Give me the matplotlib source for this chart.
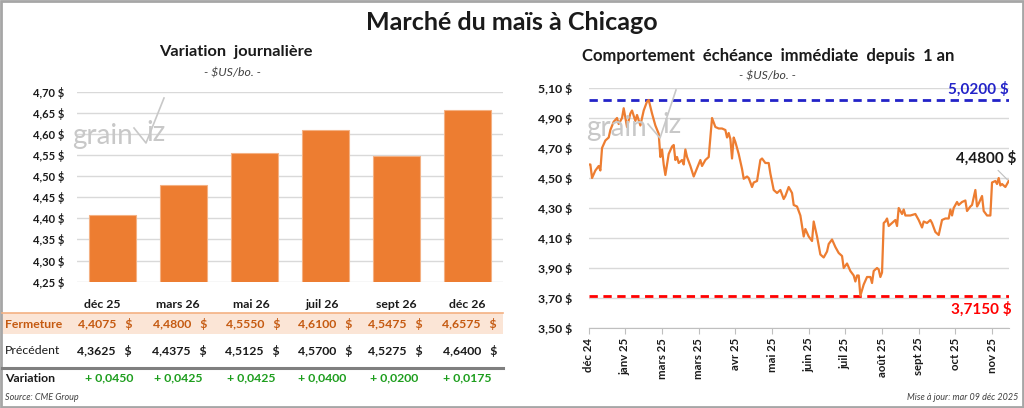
import matplotlib
matplotlib.use("Agg")
import matplotlib.pyplot as plt
from matplotlib.patches import Rectangle
from matplotlib.lines import Line2D

plt.rcParams['font.family'] = ['Lato', 'DejaVu Sans']

# ---------------- data ----------------
contracts = ["déc 25", "mars 26", "mai 26", "juil 26", "sept 26", "déc 26"]
fermeture = [4.4075, 4.4800, 4.5550, 4.6100, 4.5475, 4.6575]
precedent = [4.3625, 4.4375, 4.5125, 4.5700, 4.5275, 4.6400]
variation = [0.0450, 0.0425, 0.0425, 0.0400, 0.0200, 0.0175]

days = [0, 1, 2, 4, 6, 7, 8, 10, 12, 13, 15, 17, 18, 20, 21, 23, 25, 26, 28, 29,
        31, 33, 35, 36, 38, 40, 42, 43, 44, 45, 46, 48, 50, 51, 52, 53, 54, 56, 57, 58,
        59, 61, 63, 65, 67, 68, 70, 72, 74, 75, 76, 78, 80, 82, 83, 84, 85, 86, 87, 88,
        90, 92, 93, 95, 96, 98, 99, 101, 103, 104, 106, 108, 109, 111, 113, 115, 117, 118, 120, 122,
        123, 125, 127, 129, 130, 132, 134, 135, 137, 139, 141, 143, 144, 146, 148, 150, 152, 153, 155, 157,
        159, 160, 161, 162, 163, 165, 167, 169, 170, 171, 173, 174, 175, 176, 177, 178, 179, 180, 182, 184,
        185, 186, 188, 189, 190, 193, 196, 198, 200, 201, 203, 205, 206, 208, 209, 210, 212, 214, 216, 217,
        218, 219, 221, 222, 224, 226, 227, 229, 230, 232, 233, 234, 236, 237, 239, 241, 242, 244, 245, 246,
        247, 248, 250, 252]
prices = [4.59, 4.59, 4.50, 4.55, 4.58, 4.55, 4.70, 4.75, 4.77, 4.82, 4.875, 4.90, 4.86, 4.90, 4.965, 4.84, 4.93, 4.95, 4.88, 4.92,
          4.85, 4.95, 5.01, 5.02, 4.93, 4.85, 4.795, 4.64, 4.69, 4.59, 4.52, 4.66, 4.71, 4.72, 4.62, 4.64, 4.60, 4.62, 4.59, 4.69,
          4.64, 4.58, 4.51, 4.565, 4.62, 4.58, 4.62, 4.64, 4.90, 4.87, 4.84, 4.83, 4.83, 4.82, 4.77, 4.80, 4.76, 4.63, 4.77, 4.74,
          4.66, 4.56, 4.495, 4.51, 4.50, 4.44, 4.47, 4.48, 4.62, 4.63, 4.60, 4.60, 4.53, 4.42, 4.40, 4.42, 4.36, 4.38, 4.44, 4.40,
          4.32, 4.31, 4.25, 4.11, 4.16, 4.11, 4.08, 4.21, 4.11, 3.99, 3.97, 4.01, 4.06, 4.09, 4.04, 4.00, 3.98, 3.90, 3.93, 3.88,
          3.85, 3.81, 3.85, 3.85, 3.715, 3.79, 3.84, 3.84, 3.80, 3.88, 3.90, 3.89, 3.84, 3.87, 4.20, 4.21, 4.23, 4.18, 4.20, 4.22,
          4.18, 4.30, 4.26, 4.29, 4.25, 4.25, 4.26, 4.22, 4.17, 4.21, 4.20, 4.22, 4.20, 4.14, 4.13, 4.12, 4.22, 4.23, 4.23, 4.29,
          4.25, 4.30, 4.34, 4.32, 4.34, 4.35, 4.28, 4.31, 4.32, 4.42, 4.31, 4.33, 4.38, 4.28, 4.25, 4.25, 4.47, 4.48, 4.46, 4.50,
          4.45, 4.46, 4.44, 4.48]
month_labels = ["déc 24", "janv 25", "mars 25", "mars 25", "avr 25", "mai 25",
                "juin 25", "juil 25", "août 25", "sept 25", "oct 25", "nov 25"]
tick_step = 22
high_val = 5.02
low_val = 3.715
last_val = 4.48

left_ticks = [4.25, 4.30, 4.35, 4.40, 4.45, 4.50, 4.55, 4.60, 4.65, 4.70]
right_ticks = [3.50, 3.70, 3.90, 4.10, 4.30, 4.50, 4.70, 4.90, 5.10]

# ---------------- figure ----------------
W, H = 1024, 408
fig = plt.figure(figsize=(W / 100, H / 100), dpi=100)
fig.patch.set_facecolor('white')

def fx(x):
    return x / W

def fy(y):
    return 1 - y / H

def fr(x0, y0, x1, y1):
    return [fx(x0), fy(y1), (x1 - x0) / W, (y1 - y0) / H]

def fmt(v, d):
    return f"{v:.{d}f}".replace('.', ',')

ORANGE = '#ED7D31'
DARK = '#1a1a1a'

fig.text(fx(512), fy(22), "Marché du maïs à Chicago", ha='center', va='center',
         fontsize=18, fontweight='bold', color=DARK)

# ---------- left chart ----------
fig.text(fx(236), fy(52), "Variation  journalière", ha='center', va='center',
         fontsize=11.8, fontweight='bold', color=DARK)
fig.text(fx(232), fy(73), "- $US/bo. -", ha='center', va='center',
         fontsize=8.8, style='italic', color='#404040')

axL = fig.add_axes(fr(77, 91.7, 503, 281.7))
xs = list(range(len(contracts)))
axL.bar(xs, fermeture, width=0.66, color=ORANGE, edgecolor='#F4B183', linewidth=0.8, zorder=3)
axL.set_ylim(4.25, 4.70)
axL.set_xlim(-0.5, len(contracts) - 0.5)
axL.set_yticks(left_ticks)
axL.set_yticklabels([fmt(t, 2) + " $" for t in left_ticks], fontsize=8, fontweight='bold', color=DARK)
axL.set_xticks([])
axL.tick_params(axis='y', length=0, pad=9)
axL.grid(axis='y', color='#d9d9d9', linewidth=1)
axL.set_axisbelow(True)
for s in axL.spines.values():
    s.set_visible(False)

# table
fig.add_artist(Rectangle((fx(2), fy(334)), fx(501), (334 - 313) / H, transform=fig.transFigure,
                         facecolor='#FBE5D6', edgecolor='none', zorder=0))
fig.add_artist(Line2D([fx(2), fx(503)], [fy(313), fy(313)], transform=fig.transFigure,
                      color='#F4B183', linewidth=1.2))
fig.add_artist(Line2D([fx(2), fx(503)], [fy(368), fy(368)], transform=fig.transFigure,
                      color='#7f7f7f', linewidth=2.2))

head_cx = [102, 178, 251, 322, 396, 467]
val_rx = [132, 207, 280, 352, 423, 497]
var_cx = [109, 178, 251, 322, 394, 467]
for i, c in enumerate(contracts):
    fig.text(fx(head_cx[i]), fy(304), c, ha='center', va='center', fontsize=8.8,
             fontweight='bold', color=DARK)
    fig.text(fx(val_rx[i]), fy(324), fmt(fermeture[i], 4) + "   $", ha='right', va='center',
             fontsize=8.8, fontweight='bold', color='#C55A11')
    fig.text(fx(val_rx[i]), fy(351), fmt(precedent[i], 4) + "   $", ha='right', va='center',
             fontsize=8.8, fontweight='bold', color=DARK)
    sign = "+ " if variation[i] >= 0 else "- "
    fig.text(fx(var_cx[i]), fy(378), sign + fmt(abs(variation[i]), 4), ha='center', va='center',
             fontsize=8.8, fontweight='bold', color='#1E9E1E')

fig.text(fx(5), fy(324), "Fermeture", ha='left', va='center', fontsize=8.8,
         fontweight='bold', color='#C55A11')
fig.text(fx(5), fy(351), "Précédent", ha='left', va='center', fontsize=8.8, color=DARK)
fig.text(fx(5), fy(378), "Variation", ha='left', va='center', fontsize=8.8,
         fontweight='bold', color=DARK)
fig.text(fx(5), fy(398), "Source: CME Group", ha='left', va='center', fontsize=6.5,
         style='italic', color='#404040')

# ---------- right chart ----------
fig.text(fx(768), fy(56), "Comportement  échéance  immédiate  depuis  1 an", ha='center', va='center',
         fontsize=12, fontweight='bold', color=DARK)
fig.text(fx(767), fy(76), "- $US/bo. -", ha='center', va='center',
         fontsize=8.8, style='italic', color='#404040')

axR = fig.add_axes(fr(588.7, 88, 1008.7, 328))
axR.plot(days, prices, color=ORANGE, linewidth=1.6, zorder=3)
axR.set_xlim(0, 252)
axR.set_ylim(3.50, 5.10)
axR.set_yticks(right_ticks)
axR.set_yticklabels([fmt(t, 2) + " $" for t in right_ticks], fontsize=8.8, fontweight='bold', color=DARK)
mt = [i * tick_step for i in range(len(month_labels))]
axR.set_xticks(mt)
axR.set_xticklabels(month_labels, rotation=90, fontsize=8.2, fontweight='bold', color=DARK)
axR.tick_params(axis='y', length=0, pad=12)
axR.tick_params(axis='x', length=4, color='#bfbfbf', pad=3)
axR.grid(axis='y', color='#d9d9d9', linewidth=1)
axR.set_axisbelow(True)
for k, s in axR.spines.items():
    s.set_visible(k == 'bottom')
axR.spines['bottom'].set_color('#bfbfbf')

axR.axhline(high_val, color='#2323C8', linestyle=(0, (3, 2)), linewidth=2, zorder=2)
axR.axhline(low_val, color='#FF0000', linestyle=(0, (3, 2)), linewidth=2, zorder=2)
axR.text(1.0, high_val + 0.02, fmt(high_val, 4) + " $", transform=axR.get_yaxis_transform(),
         ha='right', va='bottom', fontsize=11, fontweight='bold', color='#2323C8')
axR.text(1.008, low_val - 0.04, fmt(low_val, 4) + " $", transform=axR.get_yaxis_transform(),
         ha='right', va='top', fontsize=11, fontweight='bold', color='#FF0000')
axR.annotate(fmt(last_val, 4) + " $", xy=(days[-1], last_val), xytext=(-23, 23),
             textcoords='offset pixels', ha='center', va='center', fontsize=11, fontweight='bold',
             color=DARK, annotation_clip=False,
             arrowprops=dict(arrowstyle='-', color='#bfbfbf', linewidth=0.8, shrinkA=2, shrinkB=1))

fig.text(fx(1018), fy(398), "Mise à jour: mar 09 déc 2025", ha='right', va='center', fontsize=6.5,
         style='italic', color='#404040')

# watermarks
WM = '#c8c8c8'
for gx, gy, ix, vpts in [(72, 136, 146, [(134, 128), (146, 143), (164, 98)]),
                         (586, 128, 662, [(648, 124), (660, 138), (676, 90)])]:
    fig.text(fx(gx), fy(gy), "grain", ha='left', va='center', fontsize=20, color=WM, zorder=1)
    fig.text(fx(ix), fy(gy - 3), "iz", ha='left', va='center', fontsize=20, color=WM, zorder=1)
    fig.add_artist(Line2D([fx(p[0]) for p in vpts], [fy(p[1]) for p in vpts],
                          transform=fig.transFigure, color=WM, linewidth=1.2))

# frame
fig.add_artist(Rectangle((0.001, 0.002), 0.998, 0.996, transform=fig.transFigure, fill=False,
                         edgecolor='#a6a6a6', linewidth=2))

fig.savefig("out.png", dpi=100, facecolor='white')
